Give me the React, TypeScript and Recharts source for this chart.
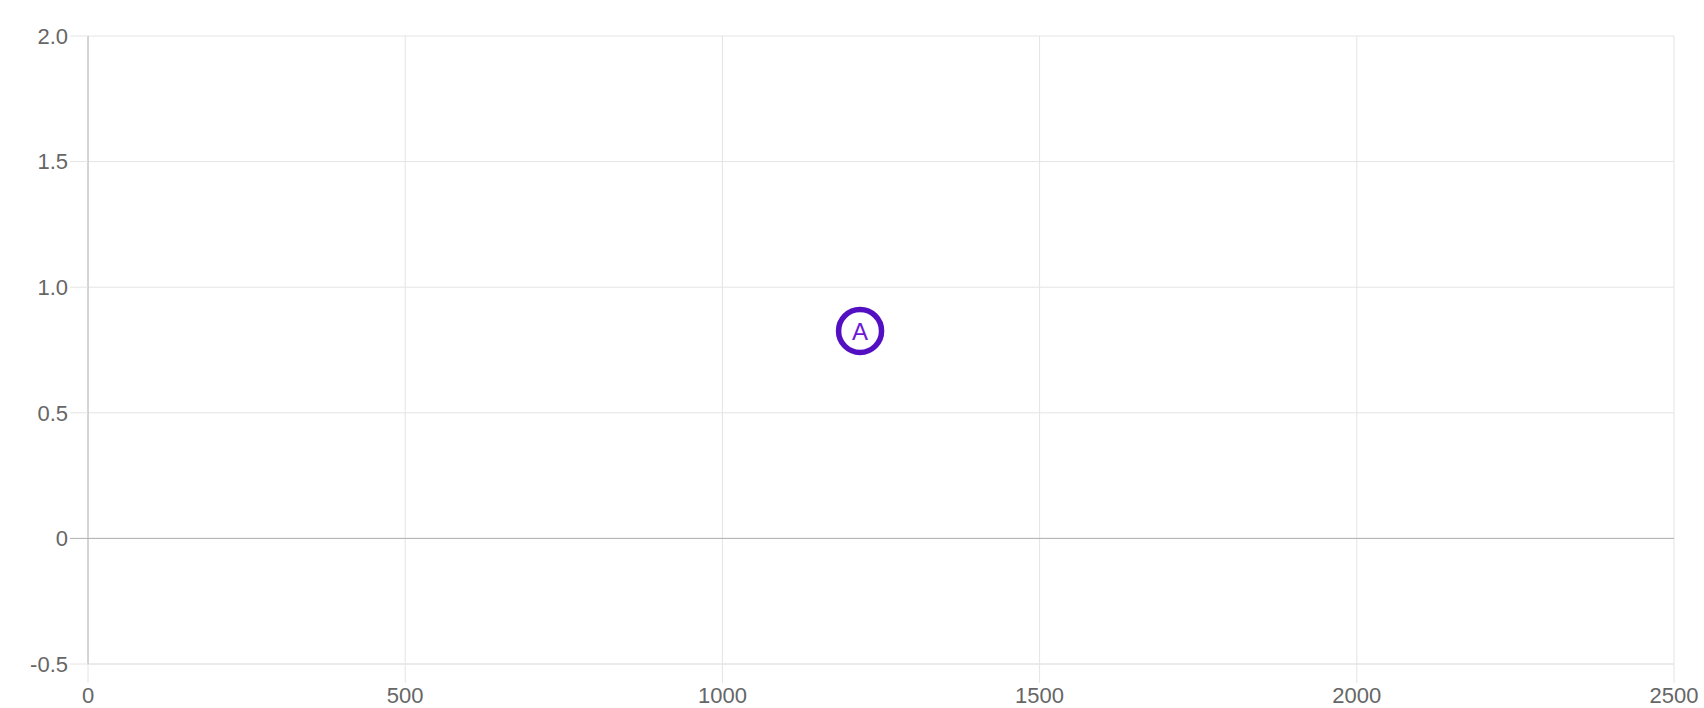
import React from 'react';
import { ScatterChart, Scatter, XAxis, YAxis, CartesianGrid, ReferenceLine } from 'recharts';

const xTicks = [0, 500, 1000, 1500, 2000, 2500];
const yTicks = [-0.5, 0, 0.5, 1, 1.5, 2];
const points = [{ x: 1217, y: 0.826, label: 'A' }];

const font = '"Liberation Sans", Arial, sans-serif';
const gridColor = '#e4e4e4';

const formatY = (v: number) => (v === 0 ? '0' : v.toFixed(1));

// y tick: label plus a tick stub, darker for the zero line
const YTick = (props: any) => {
  const { x, y, payload } = props;
  const zero = payload.value === 0;
  return (
    <g>
      <line x1={x + 2} x2={x + 20} y1={y} y2={y} stroke={zero ? '#b0b0b0' : gridColor} />
      <text x={x} y={y} dy="0.355em" textAnchor="end" fill="#666" fontSize={22} fontFamily={font}>
        {formatY(payload.value)}
      </text>
    </g>
  );
};

const Marker = (props: any) => {
  const { cx, cy, payload } = props;
  return (
    <g>
      <circle cx={cx} cy={cy} r={21.5} fill="#fff" stroke="#5310c2" strokeWidth={5.5} />
      <text x={cx} y={cy} dy="0.36em" textAnchor="middle" fill="#6b1ad6" fontSize={24} fontFamily={font}>
        {payload.label}
      </text>
    </g>
  );
};

export default function App() {
  return (
    <div style={{ position: 'absolute', left: 0, top: 0 }}>
      <ScatterChart width={1704} height={708} margin={{ top: 36, right: 30, bottom: 0, left: 0 }}>
        <CartesianGrid stroke={gridColor} />
        <XAxis
          type="number"
          dataKey="x"
          domain={[0, 2500]}
          ticks={xTicks}
          interval={0}
          height={44}
          tickSize={19}
          tickMargin={4}
          stroke={gridColor}
          tickLine={{ stroke: gridColor }}
          tick={{ fill: '#666', fontSize: 22, fontFamily: font }}
        />
        <YAxis
          type="number"
          dataKey="y"
          domain={[-0.5, 2]}
          ticks={yTicks}
          interval={0}
          width={88}
          tickSize={18}
          tickMargin={2}
          tickLine={false}
          stroke="#b8b8b8"
          tick={<YTick />}
        />
        <ReferenceLine y={0} stroke="#b0b0b0" />
        <Scatter data={points} shape={<Marker />} isAnimationActive={false} />
      </ScatterChart>
    </div>
  );
}
